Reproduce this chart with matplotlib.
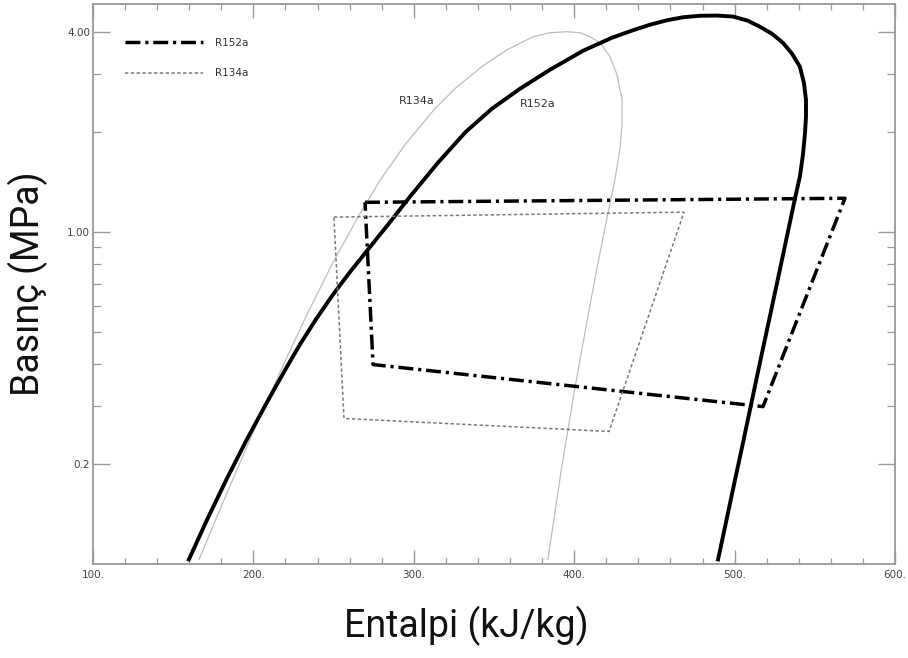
import matplotlib
matplotlib.use("Agg")
import matplotlib.pyplot as plt
from matplotlib.ticker import FixedLocator, NullFormatter, FixedFormatter

# Saturation dome of R152a (enthalpy kJ/kg, pressure MPa)
r152a_dome_h = [159.8, 171.2, 183.2, 195.9, 209.4, 219.9, 229.0, 238.9, 249.6,
                260.4, 271.4, 283.9, 297.6, 315.1, 332.5, 348.7, 366.2, 384.9,
                405.5, 423.5, 436.6, 447.2, 457.8, 467.8, 478.4, 489.0, 499.0,
                508.3, 515.8, 523.3, 530.1, 535.8, 540.7, 543.2, 544.5, 544.5,
                543.9, 542.6, 540.7, 537.6, 532.2, 527.3, 522.5, 516.2, 510.0,
                505.0, 500.3, 495.0, 489.7]
r152a_dome_p = [0.1032, 0.1362, 0.1797, 0.2371, 0.3130, 0.3853, 0.4584, 0.5453,
                0.6482, 0.7603, 0.8857, 1.0534, 1.279, 1.620, 2.008, 2.355,
                2.705, 3.086, 3.521, 3.853, 4.059, 4.217, 4.350, 4.442, 4.489,
                4.495, 4.464, 4.336, 4.159, 3.962, 3.722, 3.449, 3.151, 2.820,
                2.506, 2.228, 1.994, 1.712, 1.470, 1.261, 0.9493, 0.7345,
                0.5722, 0.4130, 0.2981, 0.2291, 0.1797, 0.1362, 0.1032]

# Saturation dome of R134a
r134a_dome_h = [166.1, 183.4, 201.1, 217.3, 234.0, 249.9, 266.8, 279.2, 294.5,
                312.6, 326.3, 342.3, 358.1, 374.3, 384.9, 395.5, 403.6, 409.8,
                416.1, 422.3, 426.7, 429.8, 429.8, 428.5, 425.4, 421.1, 415.0,
                409.3, 400.5, 392.0, 383.6]
r134a_dome_p = [0.1032, 0.1631, 0.2577, 0.3853, 0.5722, 0.8153, 1.145, 1.439,
                1.834, 2.339, 2.724, 3.151, 3.545, 3.880, 3.990, 4.018, 3.990,
                3.880, 3.722, 3.378, 2.981, 2.506, 2.107, 1.772, 1.439, 1.145,
                0.8153, 0.5842, 0.3401, 0.1926, 0.1032]

# Refrigeration cycles (closed loops)
r152a_cycle_h = [269.6, 568.8, 517.7, 274.6, 269.6]
r152a_cycle_p = [1.23, 1.265, 0.298, 0.399, 1.23]
r134a_cycle_h = [250.2, 468.5, 421.7, 256.5, 250.2]
r134a_cycle_p = [1.11, 1.149, 0.2508, 0.2745, 1.11]

x_major = [100, 200, 300, 400, 500, 600]
x_labels = ["100.", "200.", "300.", "400.", "500.", "600."]
y_major = [0.2, 1.0, 4.0]
y_labels = ["0.2", "1.00", "4.00"]
y_minor = [0.3, 0.4, 0.5, 0.6, 0.7, 0.8, 0.9, 2.0, 3.0]

small_font = ["Liberation Sans Narrow", "DejaVu Sans"]
frame_color = "#9a9a9a"

fig = plt.figure(figsize=(9.08, 6.58), dpi=100)
ax = fig.add_axes([0.1024, 0.1429, 0.8833, 0.851])
ax.set_yscale("log")
ax.set_xlim(100, 600)
ax.set_ylim(0.1, 4.87)

ax.plot(r134a_dome_h, r134a_dome_p, color="#bdbdbd", lw=0.9,
        solid_joinstyle="round")
ax.plot(r152a_dome_h, r152a_dome_p, color="black", lw=2.8,
        solid_joinstyle="round")
ax.plot(r152a_cycle_h, r152a_cycle_p, color="black", lw=2.5,
        dashes=(4.3, 1.4, 0.9, 1.4), label="R152a")
ax.plot(r134a_cycle_h, r134a_cycle_p, color="#7a7a7a", lw=1.1,
        dashes=(2.2, 1.6), label="R134a")

ax.text(302, 2.49, "R134a", ha="center", va="center", fontsize=8,
        color="#333333", family=small_font)
ax.text(377.4, 2.44, "R152a", ha="center", va="center", fontsize=8,
        color="#333333", family=small_font)

# axes frame and ticks
for s in ax.spines.values():
    s.set_color(frame_color)
    s.set_linewidth(1.3)

ax.xaxis.set_major_locator(FixedLocator(x_major))
ax.xaxis.set_major_formatter(FixedFormatter(x_labels))
ax.xaxis.set_minor_locator(FixedLocator([v for v in range(100, 601, 20)
                                         if v % 100 != 0]))
ax.yaxis.set_major_locator(FixedLocator(y_major))
ax.yaxis.set_major_formatter(FixedFormatter(y_labels))
ax.yaxis.set_minor_locator(FixedLocator(y_minor))
ax.yaxis.set_minor_formatter(NullFormatter())

ax.tick_params(axis="x", which="major", direction="in", length=10, width=1.0,
               color=frame_color, top=True, labelsize=7.5, labelcolor="#444444",
               pad=4)
ax.tick_params(axis="x", which="minor", direction="in", length=4.5, width=0.9,
               color=frame_color, top=True)
ax.tick_params(axis="y", which="major", direction="in", length=12, width=1.0,
               color=frame_color, right=True, labelsize=7.5, labelcolor="#444444",
               pad=2)
ax.tick_params(axis="y", which="minor", direction="in", length=6, width=0.9,
               color=frame_color, right=True)
for lab in ax.get_xticklabels() + ax.get_yticklabels():
    lab.set_family(small_font)

ax.set_xlabel("Entalpi (kJ/kg)", fontsize=27, family="Roboto", color="#111111")
ax.xaxis.set_label_coords(0.465, -0.075)
ax.set_ylabel("Basınç (MPa)", fontsize=27, family="Roboto", color="#111111")
ax.yaxis.set_label_coords(-0.056, 0.5)

leg = ax.legend(loc="upper left", bbox_to_anchor=(0.0287, 0.956), frameon=False,
                handlelength=7.5, handletextpad=1.1, labelspacing=1.96,
                prop={"family": small_font, "size": 7.5})
for t in leg.get_texts():
    t.set_color("#333333")

fig.savefig("out.png", dpi=100, facecolor="white")
